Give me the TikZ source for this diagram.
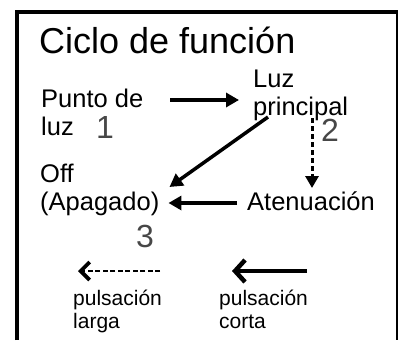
\documentclass[tikz,border=0pt]{standalone}
\usepackage{fontspec}
\setmainfont{Liberation Sans}
\usetikzlibrary{arrows.meta,calc}
\begin{document}
\begin{tikzpicture}[x=1pt,y=-1pt,
  lbl/.style={inner sep=0pt,anchor=base west,align=left,font={\fontsize{25.5}{28}\selectfont}},
  small/.style={inner sep=0pt,anchor=base west,align=left,font={\fontsize{21}{23}\selectfont}},
  num/.style={inner sep=0pt,anchor=base west,text=black!72,font={\fontsize{32}{34}\selectfont}},
  arr/.style={line width=3.5pt,-{Triangle[length=13pt,width=14pt]}},
  dotarr/.style={line width=3pt,dash pattern=on 5pt off 3pt,-{Triangle[length=12pt,width=13pt]}},
  legsolid/.style={line width=4.5pt,-{Straight Barb[length=10pt,width=22pt,line width=4.5pt]}},
  legdash/.style={line width=2.5pt,dash pattern=on 5pt off 2.5pt,-{Straight Barb[length=9pt,width=18pt,line width=3.8pt]}}]
\useasboundingbox (0,0) rectangle (398,340);
% frame
\draw[line width=4pt] (17,340) -- (17,12) -- (398,12);
\draw[line width=1.6pt] (397,12) -- (397,340);
% title
\node[inner sep=0pt,anchor=base west,font={\fontsize{36}{40}\selectfont}] (title) at (39,53) {Ciclo de función};
% states (base = last line)
\node[lbl] (punto) at (41,135) {Punto de\\luz};
\node[lbl] (luz) at (253,115) {Luz\\principal};
\node[lbl] (off) at (40,210) {Off\\(Apagado)};
\node[lbl] (aten) at (247,210) {Atenuación};
% numbers
\node[num] (n1) at (96,138) {1};
\node[num] (n2) at (321,141) {2};
\node[num] (n3) at (136,247) {3};
% transitions
\draw[arr] ($(punto.base east)+(27,-35)$) -- ($(luz.base west)+(-14,-15)$);
\draw[arr] ($(luz.base west)+(15,2)$) -- ($(off.base east)+(10,-23)$);
\draw[dotarr] ($(luz.base west)+(59,3)$) -- ($(aten.base west)+(65,-22)$);
\draw[arr] ($(aten.base west)+(-10,-7)$) -- ($(off.base east)+(9,-7)$);
% legend
\node[small] (larga) at (73,328) {pulsación\\larga};
\node[small] (corta) at (219,328) {pulsación\\corta};
\draw[legdash] ($(larga.base west)+(87,-57)$) -- ($(larga.base west)+(5,-57)$);
\draw[legsolid] ($(corta.base west)+(88,-57)$) -- ($(corta.base west)+(13,-57)$);
\end{tikzpicture}
\end{document}
